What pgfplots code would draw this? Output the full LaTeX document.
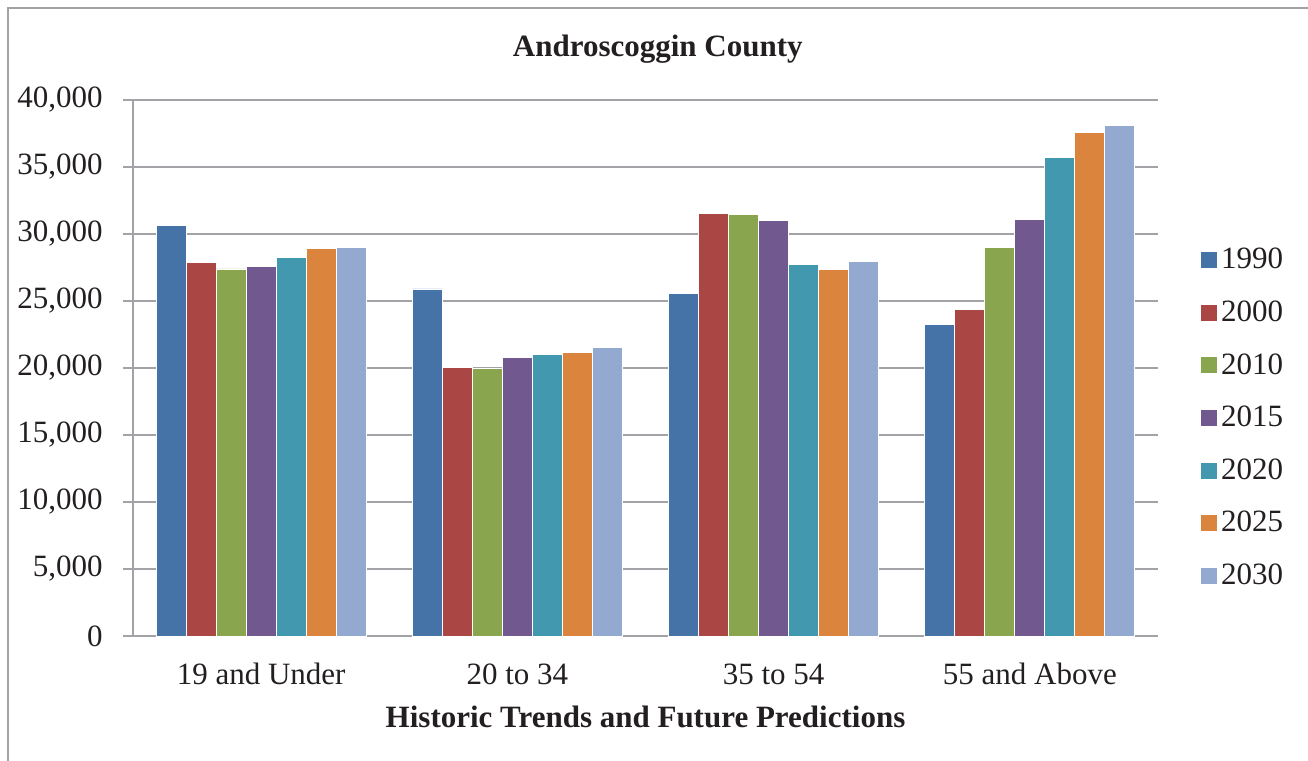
\documentclass[border=0pt]{standalone}
\usepackage{fontspec}
\setmainfont{Liberation Serif}
\usepackage{pgfplots}
\pgfplotsset{compat=1.18}
\definecolor{c1990}{HTML}{4572A7}
\definecolor{c2000}{HTML}{AA4643}
\definecolor{c2010}{HTML}{89A54E}
\definecolor{c2015}{HTML}{71588F}
\definecolor{c2020}{HTML}{4198AF}
\definecolor{c2025}{HTML}{DB843D}
\definecolor{c2030}{HTML}{93A9CF}
\definecolor{gridgray}{HTML}{A3A3A7}
\definecolor{txt}{HTML}{231F20}
\begin{document}
\begin{tikzpicture}
\useasboundingbox (-66.5pt,-62.5pt) rectangle (587.5pt,318pt);
\draw[gridgray, line width=1pt] (-62.5pt,-70pt) -- (-62.5pt,314pt) -- (600pt,314pt);
\begin{axis}[
  at={(0,0)}, anchor=south west,
  scale only axis,
  width=512.5pt, height=268pt,
  xmin=-0.5, xmax=3.5,
  ymin=0, ymax=40000,
  ybar=0pt, bar width=15pt,
  axis x line*=bottom, axis y line*=left,
  axis line style={gridgray, line width=1pt},
  xtick={0,1,2,3},
  xticklabels={19 and Under, 20 to 34, 35 to 54, 55 and Above},
  x tick style={draw=none},
  ytick={0,5000,...,40000},
  y tick style={gridgray, line width=1pt},
  tick align=outside, major tick length=5pt,
  ymajorgrids, grid style={gridgray, line width=1pt},
  scaled y ticks=false,
  yticklabel style={/pgf/number format/1000 sep={,}, /pgf/number format/assume math mode=true},
  tick label style={font=\fontsize{15.5}{18}\selectfont, text=txt},
  yticklabel style={anchor=east, inner sep=0pt, xshift=-10pt},
  xticklabel style={anchor=base, yshift=-19pt, inner sep=0pt},
  title={\textbf{Androscoggin County}},
  title style={at={(axis description cs:0.512,1)}, anchor=base, yshift=15.5pt, font=\fontsize{15.5}{18}\selectfont, text=txt, inner sep=0pt},
  xlabel={\textbf{Historic Trends and Future Predictions}},
  xlabel style={at={(axis description cs:0.5,0)}, anchor=base, yshift=-45.5pt, font=\fontsize{15.5}{18}\selectfont, text=txt, inner sep=0pt},
  legend style={at={(axis description cs:1.041,0.407)}, anchor=west, draw=none, fill=none, inner sep=0pt,
    font=\fontsize{15.5}{18}\selectfont, text=txt, row sep=11.5pt,
    nodes={inner sep=1.5pt}},
  legend cell align=left,
  legend image code/.code={\fill[#1] (0pt,-4.25pt) rectangle (8.5pt,4.25pt);},
  every axis plot/.append style={draw=white, line width=0.4pt},
  clip=false,
]
\addplot[fill=c1990] coordinates {(0,30650) (1,25900) (2,25570) (3,23280)};
\addplot[fill=c2000] coordinates {(0,27900) (1,20070) (2,31540) (3,24380)};
\addplot[fill=c2010] coordinates {(0,27390) (1,19950) (2,31490) (3,28980)};
\addplot[fill=c2015] coordinates {(0,27600) (1,20800) (2,31020) (3,31070)};
\addplot[fill=c2020] coordinates {(0,28280) (1,21040) (2,27760) (3,35720)};
\addplot[fill=c2025] coordinates {(0,28900) (1,21140) (2,27340) (3,37560)};
\addplot[fill=c2030] coordinates {(0,29000) (1,21540) (2,27960) (3,38130)};
\legend{1990,2000,2010,2015,2020,2025,2030}
\end{axis}
\end{tikzpicture}
\end{document}
